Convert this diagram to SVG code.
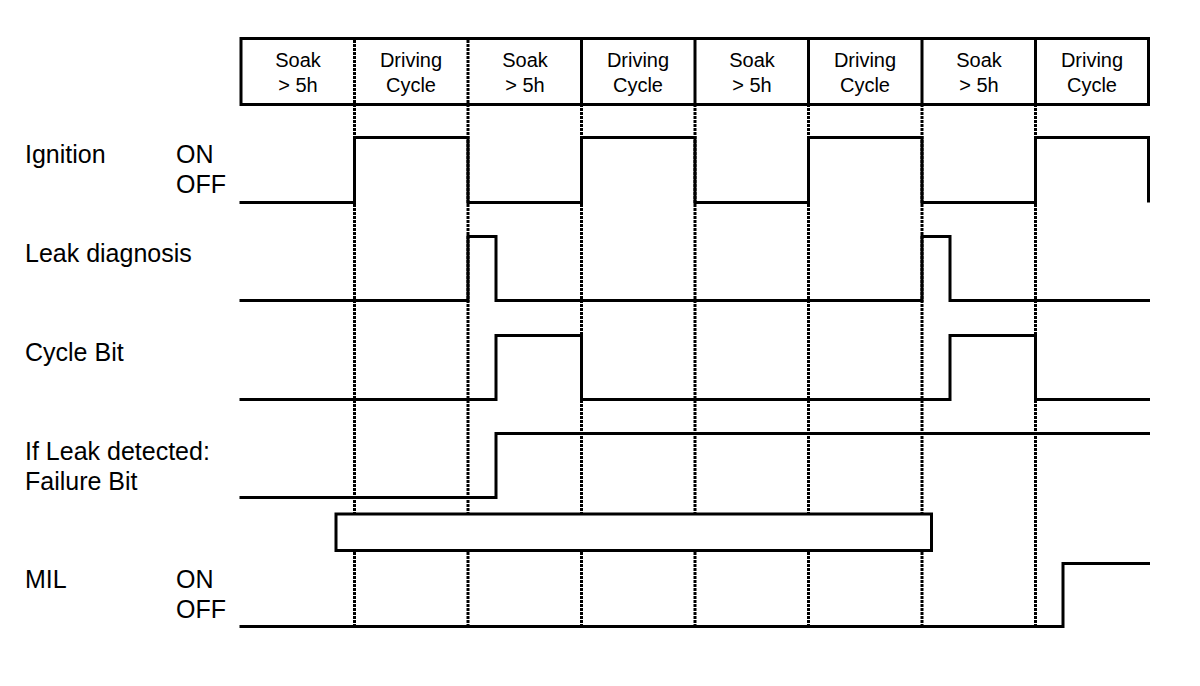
<svg xmlns="http://www.w3.org/2000/svg" width="1200" height="686" viewBox="0 0 1200 686">
<style>
.sig{fill:none;stroke:#000;stroke-width:3;stroke-linejoin:miter;stroke-linecap:square}
.box{fill:#fff;stroke:#000;stroke-width:3}
.dot{fill:none;stroke:#000;stroke-width:3;stroke-dasharray:3 1}
.hdr{fill:none;stroke:#000;stroke-width:3}
.lbl{font-family:"Liberation Sans",Arial,sans-serif;font-size:25px;fill:#000}
.ht{font-family:"Liberation Sans",Arial,sans-serif;font-size:20px;fill:#000;text-anchor:middle}
</style>
<rect width="1200" height="686" fill="#fff"/>
<g id="grid">
<path class="dot" d="M354.5 40V627M468 40V627M581.5 104V627M695 104V627M808.5 104V627M922 104V627M1035.5 104V627"/>
</g>
<g id="header">
<rect class="hdr" x="241" y="38.5" width="907.5" height="66"/>
<path class="hdr" d="M581.5 38.5V104.5M695 38.5V104.5M808.5 38.5V104.5M922 38.5V104.5M1035.5 38.5V104.5"/>
<text class="ht"><tspan x="298" y="67">Soak</tspan><tspan x="298" y="92">&gt; 5h</tspan></text>
<text class="ht"><tspan x="411" y="67">Driving</tspan><tspan x="411" y="92">Cycle</tspan></text>
<text class="ht"><tspan x="525" y="67">Soak</tspan><tspan x="525" y="92">&gt; 5h</tspan></text>
<text class="ht"><tspan x="638" y="67">Driving</tspan><tspan x="638" y="92">Cycle</tspan></text>
<text class="ht"><tspan x="752" y="67">Soak</tspan><tspan x="752" y="92">&gt; 5h</tspan></text>
<text class="ht"><tspan x="865" y="67">Driving</tspan><tspan x="865" y="92">Cycle</tspan></text>
<text class="ht"><tspan x="979" y="67">Soak</tspan><tspan x="979" y="92">&gt; 5h</tspan></text>
<text class="ht"><tspan x="1092" y="67">Driving</tspan><tspan x="1092" y="92">Cycle</tspan></text>
</g>
<g id="ignition">
<text class="lbl" x="25" y="163">Ignition</text>
<text class="lbl" x="176" y="163">ON</text>
<text class="lbl" x="176" y="193">OFF</text>
<path class="sig" d="M241 202.5H354.5V137.5H468V202.5H581.5V137.5H695V202.5H808.5V137.5H922V202.5H1035.5V137.5H1148.5V201"/>
</g>
<g id="leak">
<text class="lbl" x="25" y="262">Leak diagnosis</text>
<path class="sig" d="M241 300.5H468V236.5H496V300.5H922V236.5H950V300.5H1148.5"/>
</g>
<g id="cycle">
<text class="lbl" x="25" y="361">Cycle Bit</text>
<path class="sig" d="M241 399.5H496V335.5H581.5V399.5H950V335.5H1035.5V399.5H1148.5"/>
</g>
<g id="failure">
<text class="lbl" x="25" y="460">If Leak detected:</text>
<text class="lbl" x="25" y="490">Failure Bit</text>
<path class="sig" d="M241 497.5H496V433.5H1148.5"/>
</g>
<g id="box">
<rect class="box" x="336" y="514" width="595.5" height="36.5"/>
</g>
<g id="mil">
<text class="lbl" x="25" y="588">MIL</text>
<text class="lbl" x="176" y="588">ON</text>
<text class="lbl" x="176" y="618">OFF</text>
<path class="sig" d="M241 626.5H1063V563.5H1148.5"/>
</g>
</svg>
